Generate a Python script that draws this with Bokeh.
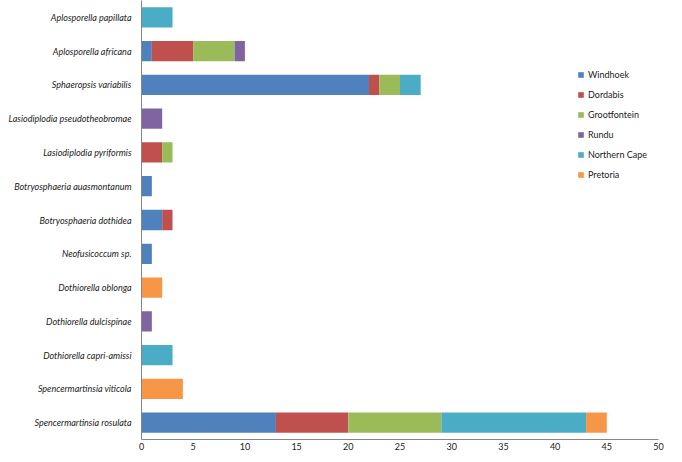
from bokeh.plotting import figure
from bokeh.models import ColumnDataSource, FactorRange, Range1d, Legend, LegendItem
from bokeh.embed import file_html
from bokeh.resources import INLINE

species = [
    "Spencermartinsia rosulata",
    "Spencermartinsia viticola",
    "Dothiorella capri-amissi",
    "Dothiorella dulcispinae",
    "Dothiorella oblonga",
    "Neofusicoccum sp.",
    "Botryosphaeria dothidea",
    "Botryosphaeria auasmontanum",
    "Lasiodiplodia pyriformis",
    "Lasiodiplodia pseudotheobromae",
    "Sphaeropsis variabilis",
    "Aplosporella africana",
    "Aplosporella papillata",
]
locations = ["Windhoek", "Dordabis", "Grootfontein", "Rundu", "Northern Cape", "Pretoria"]
windhoek = [13, 0, 0, 0, 0, 1, 2, 1, 0, 0, 22, 1, 0]
dordabis = [7, 0, 0, 0, 0, 0, 1, 0, 2, 0, 1, 4, 0]
grootfontein = [9, 0, 0, 0, 0, 0, 0, 0, 1, 0, 2, 4, 0]
rundu = [0, 0, 0, 1, 0, 0, 0, 0, 0, 2, 0, 1, 0]
northern_cape = [14, 0, 3, 0, 0, 0, 0, 0, 0, 0, 2, 0, 3]
pretoria = [2, 4, 0, 0, 2, 0, 0, 0, 0, 0, 0, 0, 0]
x_ticks = [0, 5, 10, 15, 20, 25, 30, 35, 40, 45, 50]

colors = ["#4F81BD", "#C0504D", "#9BBB59", "#8064A2", "#4BACC6", "#F79646"]

source = ColumnDataSource(dict(
    species=species,
    Windhoek=windhoek,
    Dordabis=dordabis,
    Grootfontein=grootfontein,
    Rundu=rundu,
    **{"Northern Cape": northern_cape},
    Pretoria=pretoria,
))

p = figure(
    width=666, height=452,
    y_range=FactorRange(*species),
    x_range=Range1d(0, 50),
    output_backend="svg",
    toolbar_location=None,
    min_border_left=141, min_border_right=8, min_border_top=0, min_border_bottom=0,
)

renderers = p.hbar_stack(locations, y="species", height=0.6, color=colors,
                         source=source, line_color=None)

p.outline_line_color = None
p.xgrid.grid_line_color = None
p.ygrid.grid_line_color = None

p.xaxis.ticker = x_ticks
p.xaxis.axis_line_color = "#868686"
p.xaxis.major_tick_line_color = None
p.xaxis.minor_tick_line_color = None
p.xaxis.major_tick_out = 0
p.xaxis.major_tick_in = 0
p.xaxis.major_label_text_font = "Lato"
p.xaxis.major_label_text_font_size = "9px"
p.xaxis.major_label_text_color = "#222222"
p.xaxis.major_label_standoff = 3

p.yaxis.axis_line_color = "#868686"
p.yaxis.major_tick_line_color = None
p.yaxis.minor_tick_line_color = None
p.yaxis.major_tick_out = 0
p.yaxis.major_tick_in = 0
p.yaxis.major_label_text_font = "Lato"
p.yaxis.major_label_text_font_style = "italic"
p.yaxis.major_label_text_font_size = "9px"
p.yaxis.major_label_text_color = "#222222"
p.yaxis.major_label_standoff = 10

legend = Legend(
    items=[LegendItem(label=loc, renderers=[r]) for loc, r in zip(locations, renderers)],
    location=(436, 258),
    border_line_color=None,
    background_fill_alpha=0,
    label_text_font="Lato",
    label_text_font_size="9px",
    label_text_color="#222222",
    glyph_width=7, glyph_height=7,
    label_height=14, spacing=6,
    label_standoff=4,
    padding=0, margin=0,
)
p.add_layout(legend, "center")

open("out.html", "w").write(file_html(p, INLINE))
